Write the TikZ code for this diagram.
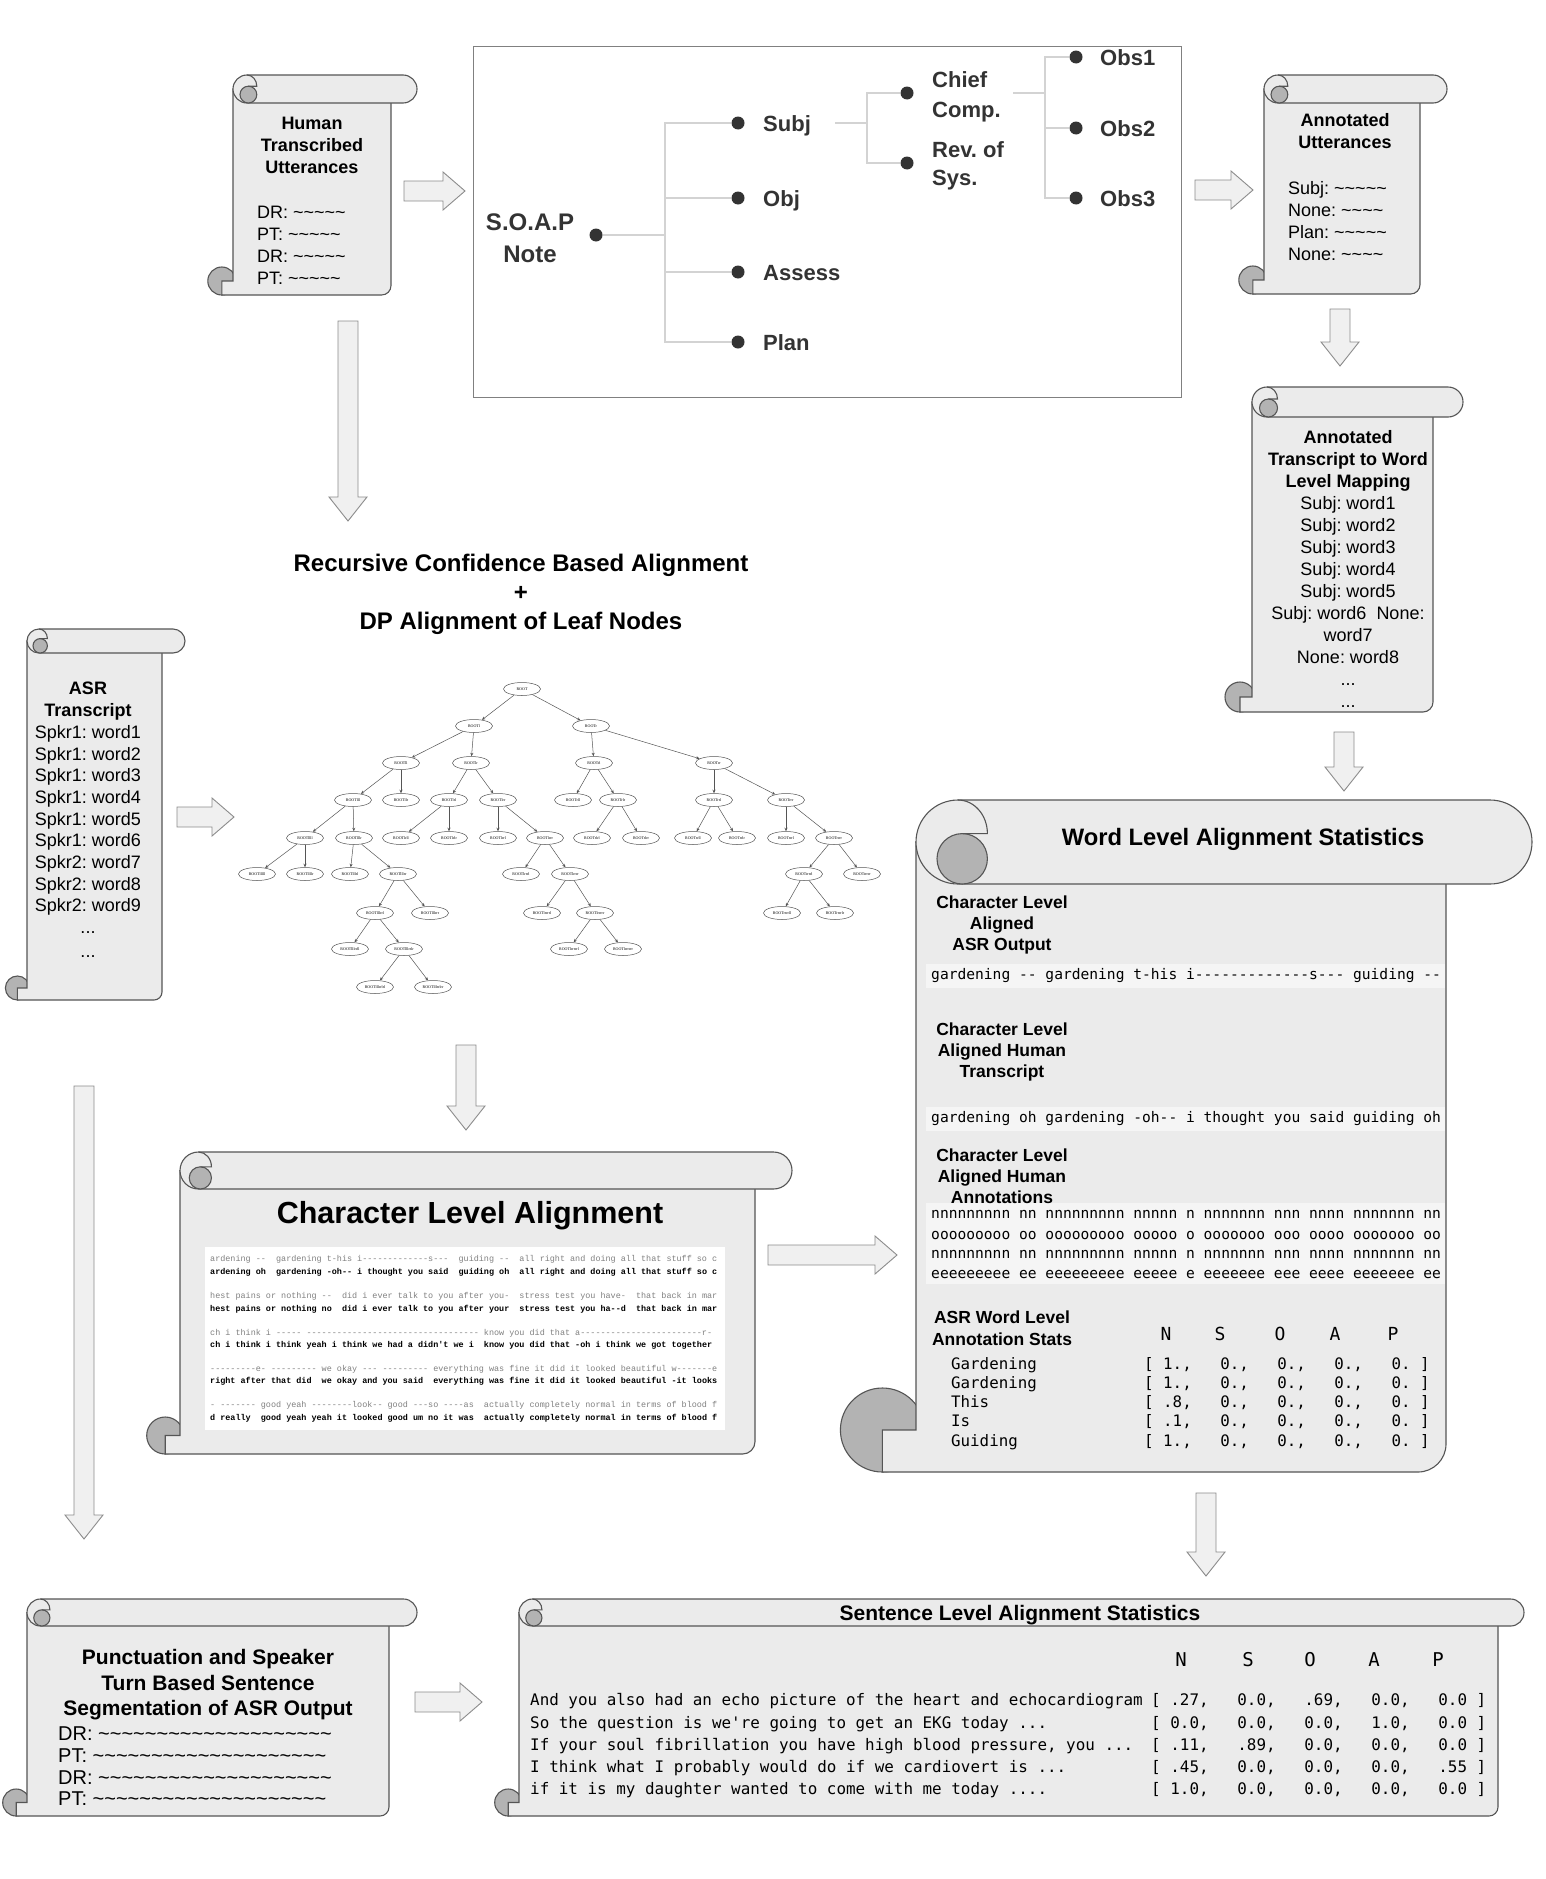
\documentclass[tikz,border=0pt]{standalone}
\usepackage{fontspec}
\setmainfont{Liberation Sans}
\newfontfamily\monoD{DejaVu Sans Mono}[Ligatures=TeXOff]
\newfontfamily\monoL{Liberation Mono}[Ligatures=TeXOff]
\newfontfamily\serifT{Liberation Serif}
\usetikzlibrary{shapes.geometric,arrows.meta,calc}
\frenchspacing
\ExplSyntaxOn
\cs_new:Npn \tld #1 {\prg_replicate:nn{#1}{\textasciitilde}}
\ExplSyntaxOff
\newcommand{\fsz}[1]{\fontsize{#1}{#1}\selectfont}
\definecolor{scrfill}{HTML}{EBEBEB}
\definecolor{scrl}{HTML}{555555}
\definecolor{curlfill}{HTML}{B3B3B3}
\definecolor{arrfill}{HTML}{F0F0F0}
\definecolor{arrline}{HTML}{8C8C8C}
\definecolor{treel}{HTML}{555555}
\definecolor{soapl}{HTML}{D3D3D3}
\definecolor{dotc}{HTML}{333333}
\definecolor{soaptext}{HTML}{333333}
\definecolor{asrgray}{HTML}{808080}
\definecolor{boxl}{HTML}{808080}
\definecolor{band}{HTML}{F5F5F5}
\tikzset{
 body/.style={fill=scrfill,draw=scrl,line width=1.1pt},
 curl/.style={fill=curlfill,draw=scrl,line width=1.1pt},
 scrl line/.style={draw=scrl,line width=1.1pt},
 barrow/.style={fill=arrfill,draw=arrline,line width=0.9pt},
 txt/.style={inner sep=0pt,text=black},
 tnode/.style={ellipse,draw=treel,line width=0.5pt,minimum width=37pt,minimum height=13pt,inner sep=0pt,font=\serifT\fsz{4},fill=white},
 tedge/.style={draw=treel,line width=0.5pt,-{Stealth[length=3.5pt,width=3pt]}},
 soapline/.style={draw=soapl,line width=1.4pt},
 dot/.style={circle,fill=dotc,inner sep=0pt,minimum size=13pt},
 hb/.style={font=\fsz{18}\bfseries},
 hr/.style={font=\fsz{18}},
 soapt/.style={font=\fsz{22}\bfseries,text=soaptext},
 wlab/.style={font=\fsz{17.5}\bfseries},
 gmono/.style={font=\monoD\fsz{14.6}},
 smono/.style={font=\monoD\fsz{15.8}},
 cmono/.style={font=\monoL\fsz{8.45},text=asrgray},
 cmonob/.style={font=\monoL\fsz{8.45}\bfseries},
}
\newcounter{tn}
\newcommand{\lbl}[4][]{\stepcounter{tn}\node[txt,anchor=base,#1] (t\arabic{tn}) at (#2,#3) {#4};}
\newcommand{\drawscroll}[7]{%
 \pgfmathsetmacro{\scH}{#6/2}%
 \pgfmathsetmacro{\scCx}{#1-0.4*#6}%
 \pgfmathsetmacro{\scCy}{#4-#6/2}%
 \pgfmathsetmacro{\scRc}{#6/3}%
 \pgfmathsetmacro{\scRx}{#3-#6/3}%
 \pgfmathsetmacro{\scTcx}{#1+0.55*#6}%
 \pgfmathsetmacro{\scTcy}{#2+0.7*#6}%
 \pgfmathsetmacro{\scTr}{0.3*#6}%
 \pgfmathsetmacro{\scTy}{#2+0.4*#6}%
 \pgfmathsetmacro{\scAx}{#1+0.5*#6}%
 \pgfmathsetmacro{\scAr}{0.35*#6}%
 \pgfmathsetmacro{\scAyr}{0.4*#6}%
 \pgfmathsetmacro{\scMid}{#2+#6/2}%
 \pgfmathsetmacro{\scBot}{#2+#6}%
 \draw[curl] (\scCx,\scCy) circle[radius=\scH];
 \draw[body] (#1,\scMid) -- (#1,\scCy) -- (\scCx,\scCy) -- (\scCx,#4) -- (\scRx,#4) arc[start angle=90,end angle=0,radius=\scRc] -- (#3,\scMid) -- cycle;
 \draw[body,rounded corners=\scH pt] (#1,#2) rectangle (#5,\scBot);
 \draw[curl] (\scTcx,\scTcy) circle[radius=\scTr];
 \draw[scrl line] (\scAx,#2) arc[start angle=-90,end angle=0,x radius=\scAr,y radius=\scAyr] -- (\scTcx,\scTy);
 \coordinate (#7) at ({(#1+#3)/2},{(#2+#4)/2});
}
\newcommand{\harrow}[2]{\draw[barrow] let \p1=(#1), \p2=(#2) in (\x1,\y1+10pt) -- (\x2-22pt,\y1+10pt) -- (\x2-22pt,\y1+19pt) -- (\x2,\y1) -- (\x2-22pt,\y1-19pt) -- (\x2-22pt,\y1-10pt) -- (\x1,\y1-10pt) -- cycle;}
\newcommand{\varrow}[2]{\draw[barrow] let \p1=(#1), \p2=(#2) in (\x1-10pt,\y1) -- (\x1-10pt,\y2+24pt) -- (\x1-19pt,\y2+24pt) -- (\x1,\y2) -- (\x1+19pt,\y2+24pt) -- (\x1+10pt,\y2+24pt) -- (\x1+10pt,\y1) -- cycle;}
\begin{document}
\begin{tikzpicture}[x=1pt,y=-1pt]
\fill[white] (0,0) rectangle (1545,1879);
\useasboundingbox (0,0) rectangle (1545,1879);

% ---------- scrolls ----------
\drawscroll{233}{75}{391}{295}{417}{28}{sHuman}
\drawscroll{1264}{75}{1420}{294}{1447}{28}{sAnnot}
\drawscroll{1252}{387}{1433}{712}{1463}{30}{sMap}
\drawscroll{27}{629}{162}{1000}{185}{24}{sASR}
\drawscroll{180}{1152}{755}{1454}{792}{37}{sChar}
\drawscroll{916}{800}{1446}{1472}{1532}{84}{sWord}
\drawscroll{27}{1599}{389}{1816}{417}{27}{sPunct}
\drawscroll{519}{1599}{1498}{1816}{1524}{27}{sSent}

% ---------- block arrows ----------
\coordinate (a1s) at (404,191);  \coordinate (a1e) at (465,191);
\coordinate (a2s) at (1195,190); \coordinate (a2e) at (1253,190);
\coordinate (a3s) at (1340,309); \coordinate (a3e) at (1340,366);
\coordinate (a4s) at (1344,732); \coordinate (a4e) at (1344,791);
\coordinate (a5s) at (348,321);  \coordinate (a5e) at (348,521);
\coordinate (a6s) at (177,817);  \coordinate (a6e) at (234,817);
\coordinate (a7s) at (466,1045); \coordinate (a7e) at (466,1130);
\coordinate (a8s) at (84,1086);  \coordinate (a8e) at (84,1539);
\coordinate (a9s) at (768,1255); \coordinate (a9e) at (897,1255);
\coordinate (a10s) at (1206,1493); \coordinate (a10e) at (1206,1576);
\coordinate (a11s) at (415,1702); \coordinate (a11e) at (482,1702);
\harrow{a1s}{a1e}
\harrow{a2s}{a2e}
\varrow{a3s}{a3e}
\varrow{a4s}{a4e}
\varrow{a5s}{a5e}
\harrow{a6s}{a6e}
\varrow{a7s}{a7e}
\varrow{a8s}{a8e}
\harrow{a9s}{a9e}
\varrow{a10s}{a10e}
\harrow{a11s}{a11e}

% ---------- SOAP box ----------
\node[draw=boxl,line width=1pt,minimum width=708pt,minimum height=351pt,inner sep=0pt] (soapbox) at (827,221.5) {};
\node[dot] (dRoot) at (596,235) {};
\node[dot] (dSubj) at (738,123) {};
\node[dot] (dObj) at (738,198) {};
\node[dot] (dAss) at (738,272) {};
\node[dot] (dPlan) at (738,342) {};
\node[dot] (dChief) at (907,93) {};
\node[dot] (dRev) at (907,163) {};
\node[dot] (dO1) at (1076,57) {};
\node[dot] (dO2) at (1076,128) {};
\node[dot] (dO3) at (1076,198) {};
\coordinate (j1) at (665,235);
\coordinate (s2) at (835,123);
\coordinate (j2) at (867,123);
\coordinate (s3) at (1013,93);
\coordinate (j3) at (1045,93);
\draw[soapline] (dRoot) -- (j1);
\draw[soapline] (j1) |- (dSubj);
\draw[soapline] (j1) |- (dObj);
\draw[soapline] (j1) |- (dAss);
\draw[soapline] (j1) |- (dPlan);
\draw[soapline] (s2) -- (j2);
\draw[soapline] (j2) |- (dChief);
\draw[soapline] (j2) |- (dRev);
\draw[soapline] (s3) -- (j3);
\draw[soapline] (j3) |- (dO1);
\draw[soapline] (j3) |- (dO2);
\draw[soapline] (j3) |- (dO3);
\lbl[font=\fsz{24}\bfseries,text=soaptext]{530}{230.6}{S.O.A.P}
\lbl[font=\fsz{24}\bfseries,text=soaptext]{530}{262.6}{Note}
\lbl[soapt,anchor=base west]{763}{131}{Subj}
\lbl[soapt,anchor=base west]{763}{206}{Obj}
\lbl[soapt,anchor=base west]{763}{280}{Assess}
\lbl[soapt,anchor=base west]{763}{350}{Plan}
\lbl[soapt,anchor=base west]{932}{87}{Chief}
\lbl[soapt,anchor=base west]{932}{117}{Comp.}
\lbl[soapt,anchor=base west]{932}{157}{Rev. of}
\lbl[soapt,anchor=base west]{932}{185}{Sys.}
\lbl[soapt,anchor=base west]{1100}{65}{Obs1}
\lbl[soapt,anchor=base west]{1100}{136}{Obs2}
\lbl[soapt,anchor=base west]{1100}{206}{Obs3}

% ---------- Human scroll text ----------
\lbl[hb]{312}{129.5}{Human}
\lbl[hb]{312}{151.5}{Transcribed}
\lbl[hb]{312}{173.5}{Utterances}
\lbl[hr,anchor=base west]{257}{218.5}{DR: \tld{5}}
\lbl[hr,anchor=base west]{257}{240.5}{PT: \tld{5}}
\lbl[hr,anchor=base west]{257}{262.5}{DR: \tld{5}}
\lbl[hr,anchor=base west]{257}{284.5}{PT: \tld{5}}

% ---------- Annotated utterances ----------
\lbl[hb]{1345}{126.5}{Annotated}
\lbl[hb]{1345}{148.5}{Utterances}
\lbl[hr,anchor=base west]{1288}{194.5}{Subj: \tld{5}}
\lbl[hr,anchor=base west]{1288}{216.5}{None: \tld{4}}
\lbl[hr,anchor=base west]{1288}{238.5}{Plan: \tld{5}}
\lbl[hr,anchor=base west]{1288}{260.5}{None: \tld{4}}

% ---------- Mapping ----------
\lbl[hb]{1348}{443.5}{Annotated}
\lbl[hb]{1348}{465.5}{Transcript to Word}
\lbl[hb]{1348}{487.5}{Level Mapping}
\lbl[hr]{1348}{509.5}{Subj: word1}
\lbl[hr]{1348}{531.5}{Subj: word2}
\lbl[hr]{1348}{553.5}{Subj: word3}
\lbl[hr]{1348}{575.5}{Subj: word4}
\lbl[hr]{1348}{597.5}{Subj: word5}
\lbl[hr]{1348}{619.5}{Subj: word6\ \ None:}
\lbl[hr]{1348}{641.5}{word7}
\lbl[hr]{1348}{663.5}{None: word8}
\lbl[hr]{1348}{685}{...}
\lbl[hr]{1348}{707}{...}

% ---------- ASR ----------
\lbl[hb]{88}{694.5}{ASR}
\lbl[hb]{88}{716.5}{Transcript}
\lbl[hr]{88}{738.5}{Spkr1: word1}
\lbl[hr]{88}{760.5}{Spkr1: word2}
\lbl[hr]{88}{781.5}{Spkr1: word3}
\lbl[hr]{88}{803.5}{Spkr1: word4}
\lbl[hr]{88}{825.5}{Spkr1: word5}
\lbl[hr]{88}{846.5}{Spkr1: word6}
\lbl[hr]{88}{868.5}{Spkr2: word7}
\lbl[hr]{88}{890.5}{Spkr2: word8}
\lbl[hr]{88}{911.5}{Spkr2: word9}
\lbl[hr]{88}{933}{...}
\lbl[hr]{88}{957}{...}

% ---------- Tree title ----------
\lbl[font=\fsz{24}\bfseries]{521}{571.6}{Recursive Confidence Based Alignment}
\lbl[font=\fsz{24}\bfseries]{521}{600}{+}
\lbl[font=\fsz{24}\bfseries]{521}{629.6}{DP Alignment of Leaf Nodes}

% ---------- Tree ----------
\node[tnode] (n0) at (522,689) {ROOT};
\node[tnode] (n1) at (474,726) {ROOTl};
\node[tnode] (n2) at (591,726) {ROOTr};
\node[tnode] (n11) at (401,763) {ROOTll};
\node[tnode] (n12) at (471,763) {ROOTlr};
\node[tnode] (n21) at (594,763) {ROOTrl};
\node[tnode] (n22) at (714,763) {ROOTrr};
\node[tnode] (n111) at (353,800) {ROOTlll};
\node[tnode] (n112) at (401,800) {ROOTllr};
\node[tnode] (n121) at (449,800) {ROOTlrl};
\node[tnode] (n122) at (498,800) {ROOTlrr};
\node[tnode] (n211) at (573,800) {ROOTrll};
\node[tnode] (n212) at (618,800) {ROOTrlr};
\node[tnode] (n221) at (714,800) {ROOTrrl};
\node[tnode] (n222) at (786,800) {ROOTrrr};
\node[tnode] (n1111) at (305,838) {ROOTllll};
\node[tnode] (n1112) at (354,838) {ROOTlllr};
\node[tnode] (n1211) at (401,838) {ROOTlrll};
\node[tnode] (n1212) at (449,838) {ROOTlrlr};
\node[tnode] (n1221) at (498,838) {ROOTlrrl};
\node[tnode] (n1222) at (545,838) {ROOTlrrr};
\node[tnode] (n2121) at (592,838) {ROOTrlrl};
\node[tnode] (n2122) at (641,838) {ROOTrlrr};
\node[tnode] (n2211) at (693,838) {ROOTrrll};
\node[tnode] (n2212) at (737,838) {ROOTrrlr};
\node[tnode] (n2221) at (786,838) {ROOTrrrl};
\node[tnode] (n2222) at (834,838) {ROOTrrrr};
\node[tnode] (n11111) at (257,874) {ROOTlllll};
\node[tnode] (n11112) at (305,874) {ROOTllllr};
\node[tnode] (n11121) at (350,874) {ROOTlllrl};
\node[tnode] (n11122) at (398,874) {ROOTlllrr};
\node[tnode] (n12221) at (521,874) {ROOTlrrrl};
\node[tnode] (n12222) at (570,874) {ROOTlrrrr};
\node[tnode] (n22221) at (804,874) {ROOTrrrrl};
\node[tnode] (n22222) at (862,874) {ROOTrrrrr};
\node[tnode] (n111221) at (375,913) {ROOTlllrrl};
\node[tnode] (n111222) at (430,913) {ROOTlllrrr};
\node[tnode] (n122221) at (542,913) {ROOTlrrrrl};
\node[tnode] (n122222) at (595,913) {ROOTlrrrrr};
\node[tnode] (n222211) at (782,913) {ROOTrrrrll};
\node[tnode] (n222212) at (835,913) {ROOTrrrrlr};
\node[tnode] (n1112211) at (350,949) {ROOTlllrrll};
\node[tnode] (n1112212) at (404,949) {ROOTlllrrlr};
\node[tnode] (n1222221) at (569,949) {ROOTlrrrrrl};
\node[tnode] (n1222222) at (623,949) {ROOTlrrrrrr};
\node[tnode] (n11122121) at (375,987) {ROOTlllrrlrl};
\node[tnode] (n11122122) at (433,987) {ROOTlllrrlrr};
\foreach \a/\b in {0/1,0/2,1/11,1/12,2/21,2/22,11/111,11/112,12/121,12/122,21/211,21/212,22/221,22/222,111/1111,111/1112,121/1211,121/1212,122/1221,122/1222,212/2121,212/2122,221/2211,221/2212,222/2221,222/2222,1111/11111,1111/11112,1112/11121,1112/11122,1222/12221,1222/12222,2222/22221,2222/22222,11122/111221,11122/111222,12222/122221,12222/122222,22221/222211,22221/222212,111221/1112211,111221/1112212,122222/1222221,122222/1222222,1112212/11122121,1112212/11122122}
  \draw[tedge] (n\a) -- (n\b);

% ---------- Character level alignment ----------
\lbl[font=\fsz{30.5}\bfseries]{470}{1223}{Character Level Alignment}
\fill[white] (205,1247) rectangle (725,1430);
\lbl[cmono,anchor=base west]{210}{1261}{ardening --~~gardening t-his i-------------s---~~guiding --~~all right and doing all that stuff so c}
\lbl[cmonob,anchor=base west]{210}{1274}{ardening oh~~gardening -oh-- i thought you said~~guiding oh~~all right and doing all that stuff so c}
\lbl[cmono,anchor=base west]{210}{1298}{hest pains or nothing --~~did i ever talk to you after you-~~stress test you have-~~that back in mar}
\lbl[cmonob,anchor=base west]{210}{1311}{hest pains or nothing no~~did i ever talk to you after your~~stress test you ha--d~~that back in mar}
\lbl[cmono,anchor=base west]{210}{1335}{ch i think i ----- ---------------------------------- know you did that a------------------------r-}
\lbl[cmonob,anchor=base west]{210}{1347}{ch i think i think yeah i think we had a didn't we i~~know you did that -oh i think we got together}
\lbl[cmono,anchor=base west]{210}{1371}{---------e- --------- we okay --- --------- everything was fine it did it looked beautiful w-------e}
\lbl[cmonob,anchor=base west]{210}{1383}{right after that did~~we okay and you said~~everything was fine it did it looked beautiful -it looks}
\lbl[cmono,anchor=base west]{210}{1407}{- ------- good yeah --------look-- good ---so ----as~~actually completely normal in terms of blood f}
\lbl[cmonob,anchor=base west]{210}{1420}{d really~~good yeah yeah it looked good um no it was~~actually completely normal in terms of blood f}

% ---------- Word level alignment statistics ----------
\fill[band] (926,964) rectangle (1445,988);
\fill[band] (926,1107) rectangle (1445,1131);
\fill[band] (926,1203) rectangle (1445,1284);
\lbl[font=\fsz{23.75}\bfseries]{1243}{845.5}{Word Level Alignment Statistics}
\lbl[wlab]{1002}{908.3}{Character Level}
\lbl[wlab]{1002}{929.3}{Aligned}
\lbl[wlab]{1002}{950.3}{ASR Output}
\lbl[wlab]{1002}{1035.3}{Character Level}
\lbl[wlab]{1002}{1056.3}{Aligned Human}
\lbl[wlab]{1002}{1077.3}{Transcript}
\lbl[wlab]{1002}{1161.3}{Character Level}
\lbl[wlab]{1002}{1182.3}{Aligned Human}
\lbl[wlab]{1002}{1203.3}{Annotations}
\lbl[wlab]{1002}{1323.3}{ASR Word Level}
\lbl[wlab]{1002}{1345.3}{Annotation Stats}
\lbl[gmono,anchor=base west]{931}{979}{gardening -- gardening t-his i-------------s--- guiding --}
\lbl[gmono,anchor=base west]{931}{1122.5}{gardening oh gardening -oh-- i thought you said guiding oh}
\lbl[gmono,anchor=base west]{931}{1218}{nnnnnnnnn nn nnnnnnnnn nnnnn n nnnnnnn nnn nnnn nnnnnnn nn}
\lbl[gmono,anchor=base west]{931}{1239}{ooooooooo oo ooooooooo ooooo o ooooooo ooo oooo ooooooo oo}
\lbl[gmono,anchor=base west]{931}{1258}{nnnnnnnnn nn nnnnnnnnn nnnnn n nnnnnnn nnn nnnn nnnnnnn nn}
\lbl[gmono,anchor=base west]{931}{1278}{eeeeeeeee ee eeeeeeeee eeeee e eeeeeee eee eeee eeeeeee ee}
\lbl[font=\monoD\fsz{18}]{1166}{1340}{N}
\lbl[font=\monoD\fsz{18}]{1220}{1340}{S}
\lbl[font=\monoD\fsz{18}]{1280}{1340}{O}
\lbl[font=\monoD\fsz{18}]{1335}{1340}{A}
\lbl[font=\monoD\fsz{18}]{1393}{1340}{P}
\lbl[smono,anchor=base west]{951}{1369.5}{Gardening}
\lbl[smono,anchor=base west]{951}{1388.5}{Gardening}
\lbl[smono,anchor=base west]{951}{1407.5}{This}
\lbl[smono,anchor=base west]{951}{1426.5}{Is}
\lbl[smono,anchor=base west]{951}{1446.5}{Guiding}
\lbl[smono,anchor=base west]{1144}{1369.5}{[~1.,~~~0.,~~~0.,~~~0.,~~~0.~]}
\lbl[smono,anchor=base west]{1144}{1388.5}{[~1.,~~~0.,~~~0.,~~~0.,~~~0.~]}
\lbl[smono,anchor=base west]{1144}{1407.5}{[~.8,~~~0.,~~~0.,~~~0.,~~~0.~]}
\lbl[smono,anchor=base west]{1144}{1426.5}{[~.1,~~~0.,~~~0.,~~~0.,~~~0.~]}
\lbl[smono,anchor=base west]{1144}{1446.5}{[~1.,~~~0.,~~~0.,~~~0.,~~~0.~]}

% ---------- Punctuation scroll ----------
\lbl[font=\fsz{21}\bfseries]{208}{1664.5}{Punctuation and Speaker}
\lbl[font=\fsz{21}\bfseries]{208}{1690.5}{Turn Based Sentence}
\lbl[font=\fsz{21}\bfseries]{208}{1715.5}{Segmentation of ASR Output}
\lbl[font=\fsz{20},anchor=base west]{58}{1740}{DR: \tld{20}}
\lbl[font=\fsz{20},anchor=base west]{58}{1762}{PT: \tld{20}}
\lbl[font=\fsz{20},anchor=base west]{58}{1784}{DR: \tld{20}}
\lbl[font=\fsz{20},anchor=base west]{58}{1805}{PT: \tld{20}}

% ---------- Sentence level ----------
\lbl[font=\fsz{21}\bfseries]{1020}{1620}{Sentence Level Alignment Statistics}
\lbl[font=\monoD\fsz{19}]{1181}{1666}{N}
\lbl[font=\monoD\fsz{19}]{1248}{1666}{S}
\lbl[font=\monoD\fsz{19}]{1310}{1666}{O}
\lbl[font=\monoD\fsz{19}]{1374}{1666}{A}
\lbl[font=\monoD\fsz{19}]{1438}{1666}{P}
\lbl[smono,anchor=base west,font=\monoD\fsz{15.9}]{530}{1705.5}{And you also had an echo picture of the heart and echocardiogram}
\lbl[smono,anchor=base west,font=\monoD\fsz{15.9}]{530}{1728}{So the question is we're going to get an EKG today ...}
\lbl[smono,anchor=base west,font=\monoD\fsz{15.9}]{530}{1750}{If your soul fibrillation you have high blood pressure, you ...}
\lbl[smono,anchor=base west,font=\monoD\fsz{15.9}]{530}{1772.5}{I think what I probably would do if we cardiovert is ...}
\lbl[smono,anchor=base west,font=\monoD\fsz{15.9}]{530}{1794.5}{if it is my daughter wanted to come with me today ....}
\lbl[smono,anchor=base west,font=\monoD\fsz{15.9}]{1151}{1705.5}{[~.27,~~~0.0,~~~.69,~~~0.0,~~~0.0~]}
\lbl[smono,anchor=base west,font=\monoD\fsz{15.9}]{1151}{1728}{[~0.0,~~~0.0,~~~0.0,~~~1.0,~~~0.0~]}
\lbl[smono,anchor=base west,font=\monoD\fsz{15.9}]{1151}{1750}{[~.11,~~~.89,~~~0.0,~~~0.0,~~~0.0~]}
\lbl[smono,anchor=base west,font=\monoD\fsz{15.9}]{1151}{1772.5}{[~.45,~~~0.0,~~~0.0,~~~0.0,~~~.55~]}
\lbl[smono,anchor=base west,font=\monoD\fsz{15.9}]{1151}{1794.5}{[~1.0,~~~0.0,~~~0.0,~~~0.0,~~~0.0~]}
\end{tikzpicture}
\end{document}
